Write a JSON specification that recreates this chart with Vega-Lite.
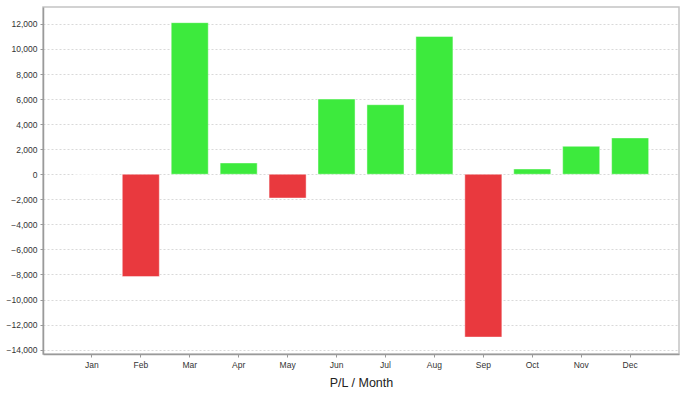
{
  "$schema": "https://vega.github.io/schema/vega-lite/v6.json",
  "width": 636,
  "height": 347,
  "autosize": {"type": "none"},
  "padding": {"left": 43, "top": 7, "right": 9, "bottom": 44},
  "background": "white",
  "config": {
    "view": {"stroke": "#c4c4c4", "strokeWidth": 1.5},
    "font": "Liberation Sans"
  },
  "data": {
    "values": [
      {"month": "Jan", "pl": 0},
      {"month": "Feb", "pl": -8170},
      {"month": "Mar", "pl": 12100},
      {"month": "Apr", "pl": 900},
      {"month": "May", "pl": -1900},
      {"month": "Jun", "pl": 6000},
      {"month": "Jul", "pl": 5550},
      {"month": "Aug", "pl": 11000},
      {"month": "Sep", "pl": -13000},
      {"month": "Oct", "pl": 420},
      {"month": "Nov", "pl": 2230},
      {"month": "Dec", "pl": 2900}
    ]
  },
  "mark": {"type": "bar", "stroke": "white", "strokeOpacity": 0.45, "strokeWidth": 1},
  "encoding": {
    "x": {
      "field": "month",
      "type": "nominal",
      "sort": null,
      "scale": {"paddingInner": 0.243, "paddingOuter": 0.62},
      "axis": {
        "title": "P/L / Month",
        "titleFont": "Liberation Sans",
        "titleFontSize": 12.5,
        "titleFontWeight": "normal",
        "titleColor": "#222",
        "titlePadding": 8,
        "labelAngle": 0,
        "labelFontSize": 8.5,
        "labelColor": "#333",
        "labelPadding": 3,
        "tickSize": 3,
        "tickColor": "#999",
        "domainColor": "#9a9a9a",
        "domainWidth": 1.5,
        "grid": false
      }
    },
    "y": {
      "field": "pl",
      "type": "quantitative",
      "scale": {"domain": [-14350, 13350], "nice": false, "zero": false},
      "axis": {
        "title": null,
        "values": [-14000, -12000, -10000, -8000, -6000, -4000, -2000, 0, 2000, 4000, 6000, 8000, 10000, 12000],
        "format": ",d",
        "labelFontSize": 8.5,
        "labelColor": "#333",
        "labelPadding": 3,
        "tickSize": 3,
        "tickColor": "#999",
        "domainColor": "#9a9a9a",
        "domainWidth": 1.5,
        "grid": true,
        "gridColor": "#d9d9d9",
        "gridDash": [2, 2],
        "gridWidth": 1
      }
    },
    "color": {
      "condition": {"test": "datum.pl < 0", "value": "#E9393E"},
      "value": "#3DEA3D"
    }
  }
}
